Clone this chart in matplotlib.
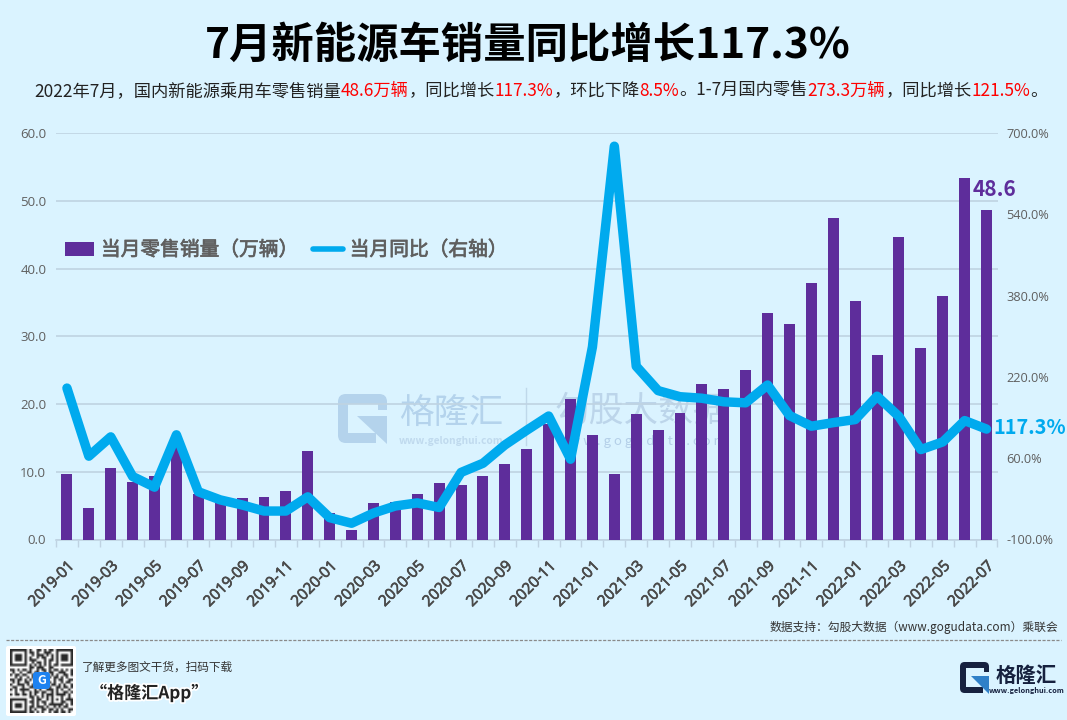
import numpy as np
import pandas as pd
import matplotlib
matplotlib.use("Agg")
import matplotlib.pyplot as plt
import matplotlib.patheffects as pe
from matplotlib.lines import Line2D
from matplotlib.patches import FancyBboxPatch, Polygon, Rectangle

CJK = ["Noto Sans CJK SC", "DejaVu Sans"]
plt.rcParams["font.family"] = CJK

# data
meses = pd.date_range("2019-01", "2022-07", freq="MS").strftime("%Y-%m").tolist()
vendas = [9.6, 4.6, 10.6, 8.5, 9.3, 13.7, 6.7, 6.3, 6.1, 6.2, 7.1, 13.0,
          3.9, 1.4, 5.4, 5.5, 6.7, 8.3, 8.1, 9.3, 11.1, 13.3, 17.1, 20.8,
          15.4, 9.6, 18.5, 16.1, 18.7, 22.9, 22.2, 25.0, 33.4, 31.8, 37.9, 47.4,
          35.2, 27.2, 44.6, 28.2, 36.0, 53.3, 48.6]
yoy = [198, 64, 102, 24, 3, 106, -6, -22, -32, -44, -44, -16,
       -57, -68, -48, -34, -28, -37, 32, 50, 86, 115, 143, 58,
       279, 674, 241, 193, 181, 178, 171, 169, 204, 144, 123, 130,
       136, 182, 142, 77, 92, 134, 117.3]
ticks_esq = [0, 10, 20, 30, 40, 50, 60]
ticks_dir = [-100, 60, 220, 380, 540, 700]

subtitulo = [("2022年7月，国内新能源乘用车零售销量", "#222222"), ("48.6万辆", "#ff0000"),
             ("，同比增长", "#222222"), ("117.3%", "#ff0000"), ("，环比下降", "#222222"),
             ("8.5%", "#ff0000"), ("。1-7月国内零售", "#222222"), ("273.3万辆", "#ff0000"),
             ("，同比增长", "#222222"), ("121.5%", "#ff0000"), ("。", "#222222")]

qr_linhas = [
    "#######.#..##.#.##.#######",
    "#.....#.##.#..###..#.....#",
    "#.###.#..#.###.#.#.#.###.#",
    "#.###.#.#..#.##..#.#.###.#",
    "#.###.#.###...#.##.#.###.#",
    "#.....#..#.##.#.#..#.....#",
    "#######.#.#.#.#.#.##.#####",
    "........##.###..##........",
    "##.#.##.#..#.##.#.##.#.#.#",
    ".#..#..##.##..#.##..###..#",
    "#.##.##..#.#.##..#.#..##.#",
    "..#.#..#.##.#..##.##.#.#..",
    "##.##.#.#.#..#.#..#.##..##",
    ".#.#..##..##.#.##.#..#.##.",
    "#..###.#.#..#.#..##.#.#..#",
    ".##..#..##.##.#.#..##.##.#",
    "#.#.####..#.#..###.#.#..#.",
    "..#..#..#.##.##..#.#..##.#",
    "#.##.##.#.#..#.###.####.#.",
    "........##.#.#.#.#...#..#.",
    "#######..#.##..#.#.#.#.###",
    "#.....#.##.#.##..#...##..#",
    "#.###.#..#.#..#.######.#.#",
    "#.###.#.##.###.#..#.#.##..",
    "#.....#.#.#..##.##.#.#..##",
    "#######.##.#.#..#.##.##.#.",
]

W, H = 1067, 720
fundo = "#DAF3FF"
roxo = "#5E2D9B"
azul = "#00AAEE"
grade = "#BFD3E2"
cinza = "#5F5F5F"

fig = plt.figure(figsize=(W / 100, H / 100), dpi=100, facecolor=fundo)

# layer in pixel coordinates, behind the chart
fundo_ax = fig.add_axes([0, 0, 1, 1], zorder=0)
fundo_ax.set_xlim(0, W)
fundo_ax.set_ylim(H, 0)
fundo_ax.axis("off")


def desenha_logo(ax, x, y, w, h, cor, cor_tri, cor_fundo):
    ax.add_patch(FancyBboxPatch((x, y), w, h, boxstyle=f"round,pad=0,rounding_size={w * 0.16}",
                                fc=cor, ec="none"))
    ax.add_patch(Rectangle((x + w * 0.2, y + h * 0.2), w * 0.85, h * 0.6, fc=cor_fundo, ec="none"))
    ax.add_patch(Rectangle((x + w * 0.78, y + h * 0.8), w * 0.25, h * 0.22, fc=cor_fundo, ec="none"))
    ax.add_patch(Rectangle((x + w * 0.82, y + h * 0.2), w * 0.18, h * 0.12, fc=cor, ec="none"))
    ax.add_patch(Polygon([(x + w * 0.38, y + h * 0.44), (x + w, y + h * 0.44), (x + w, y + h * 1.03)],
                         fc=cor_tri, ec="none"))


# watermark
desenha_logo(fundo_ax, 338, 394, 49, 49, "#B4D3EC", "#B4D3EC", fundo)
fundo_ax.text(451, 414, "格隆汇", fontsize=25, color="#B4D3EC", ha="center", va="center")
fundo_ax.text(451, 441, "www.gelonghui.com", fontsize=7.3, color="#C0DAEE", ha="center", va="center", weight="bold")
fundo_ax.plot([526, 526], [388, 445], color="#BFD8EA", lw=1)
fundo_ax.text(641, 411, "勾股大数据", fontsize=25, color="#BCD5EA", ha="center", va="center")
fundo_ax.text(641, 441, "w w w . g o g u d a t a . c o m", fontsize=9.5, color="#B4CFE8", ha="center", va="center")

# bars, left axis
ax = fig.add_axes([56 / W, (H - 539.5) / H, (997.5 - 56) / W, (539.5 - 133) / H], zorder=1)
ax.patch.set_alpha(0)
x = np.arange(len(meses))
barras = ax.bar(x, vendas, width=0.5, color=roxo, zorder=3)
ax.set_xlim(-0.5, len(meses) - 0.5)
ax.set_ylim(0, 60)
ax.set_yticks(ticks_esq)
ax.set_yticklabels([f"{v:.1f}" for v in ticks_esq], fontsize=9.5, color=cinza,
                   family=["Open Sans", "DejaVu Sans"])
ax.tick_params(axis="y", length=0, pad=7)
ax.yaxis.grid(True, color=grade, lw=1.2)
ax.set_axisbelow(True)
ax.set_xticks(x[::2])
ax.set_xticklabels(meses[::2], rotation=45, ha="right", rotation_mode="anchor", fontsize=11,
                   color="#4A4A4A", family=["Open Sans", "DejaVu Sans"],
                   path_effects=[pe.withStroke(linewidth=0.5, foreground="#4A4A4A")])
ax.tick_params(axis="x", which="major", length=0, pad=14)
ax.set_xticks(np.arange(-0.5, len(meses)), minor=True)
ax.tick_params(axis="x", which="minor", length=5, color=grade, width=1)
for lado in ["top", "left", "right"]:
    ax.spines[lado].set_visible(False)
ax.spines["bottom"].set_color(grade)
ax.spines["bottom"].set_linewidth(1.2)

# line, right axis
ax2 = ax.twinx()
ax2.patch.set_alpha(0)
ax2.plot(x, yoy, color=azul, lw=6.8, solid_joinstyle="round", solid_capstyle="round", zorder=5,
         clip_on=False)
ax2.set_ylim(-100, 700)
ax2.set_yticks(ticks_dir)
ax2.set_yticklabels([f"{v:.1f}%" for v in ticks_dir], fontsize=9.2, color=cinza,
                    family=["Open Sans", "DejaVu Sans"])
ax2.tick_params(axis="y", length=0, pad=6.5)
for lado in ["top", "left", "right", "bottom"]:
    ax2.spines[lado].set_visible(False)

ax2.annotate(f"{vendas[-1]:.1f}", (x[-1], yoy[-1]), xycoords="data", xytext=(973, 190),
             textcoords=fundo_ax.transData, fontsize=15, weight="bold", color=roxo,
             ha="left", va="center", annotation_clip=False)
ax2.annotate(f"{yoy[-1]:.1f}%", (x[-1], yoy[-1]), xycoords="data", xytext=(993, 428),
             textcoords=fundo_ax.transData, fontsize=14.3, weight="bold", color=azul,
             ha="left", va="center", annotation_clip=False)

leg = ax2.legend([barras, Line2D([], [], color=azul, lw=4, solid_capstyle="round")],
                 ["当月零售销量（万辆）", "当月同比（右轴）"], loc="center left",
                 bbox_to_anchor=(64.5 / W, (H - 250) / H), bbox_transform=fig.transFigure, frameon=False,
                 ncol=2, fontsize=14.2, labelcolor=cinza, handlelength=1.5, handleheight=0.7,
                 handletextpad=0.35, columnspacing=0.75, borderpad=0, borderaxespad=0)
for t in leg.get_texts():
    t.set_path_effects([pe.withStroke(linewidth=0.5, foreground=cinza)])

# texts and footer, in pixel coordinates on top
topo = fig.add_axes([0, 0, 1, 1], zorder=2)
topo.patch.set_alpha(0)
topo.axis("off")

topo.imshow(np.array([[c == "#" for c in l] for l in qr_linhas]), cmap="gray_r", vmin=0, vmax=1.2,
            extent=(10, 73, 713, 649), aspect="auto", interpolation="bilinear", zorder=2)
topo.set_xlim(0, W)
topo.set_ylim(H, 0)
topo.add_patch(FancyBboxPatch((6, 646), 70, 70, boxstyle="round,pad=0,rounding_size=2", fc="white", ec="none", zorder=1))
topo.add_patch(FancyBboxPatch((33, 672), 17, 17, boxstyle="round,pad=0,rounding_size=3", fc="#1E82F0", ec="none", zorder=3))
topo.text(41.5, 680.5, "G", fontsize=9, color="white", weight="bold", ha="center", va="center", zorder=4)

topo.text(528, 46, "7月新能源车销量同比增长117.3%", fontsize=30.5, weight="bold", color="black",
          ha="center", va="center")

# subtitle pieces, placed one after the other
renderer = fig.canvas.get_renderer()
pos = 34
for trecho, cor in subtitulo:
    t = topo.text(pos, 91, trecho, fontsize=12.42, color=cor, ha="left", va="center")
    bb = t.get_window_extent(renderer)
    pos += bb.width

topo.plot([6, 1061], [640, 640], color="#8A8A8A", lw=0.9, ls=(0, (2.5, 1.2)))
topo.text(1058, 627, "数据支持：勾股大数据（www.gogudata.com）乘联会", fontsize=8.5, color="#333333",
          ha="right", va="center")
topo.text(82, 667, "了解更多图文干货，扫码下载", fontsize=8.4, color="#333333", ha="left", va="center")
topo.text(90, 693, "“格隆汇App”", fontsize=12.3, weight="bold", color="#222222", ha="left", va="center",
          path_effects=[pe.withStroke(linewidth=2.5, foreground="white")])

desenha_logo(topo, 960, 662, 29, 31, "#16213F", "#2F80C8", fundo)
topo.text(1026.5, 675, "格隆汇", fontsize=14.7, weight="bold", color="#16213F", ha="center", va="center")
topo.text(1026.5, 690, "www.gelonghui.com", fontsize=5.3, weight="bold", color="#16213F", ha="center", va="center")

fig.savefig("out.png", dpi=100, facecolor=fundo)
